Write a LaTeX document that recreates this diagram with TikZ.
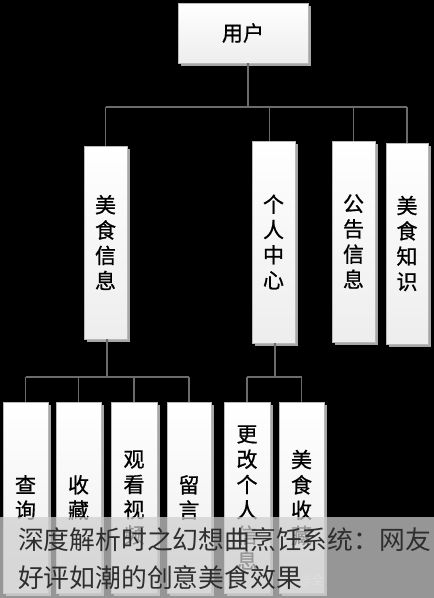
\documentclass[tikz,border=0pt]{standalone}
\usepackage{fontspec}
\newfontfamily\cjk{Noto Sans CJK SC}
\newfontfamily\cjkb[FakeBold=0.8]{Noto Sans CJK SC}
\usetikzlibrary{shadows,calc}
\begin{document}
\begin{tikzpicture}[x=1pt,y=-1pt,
 box/.style={rectangle, draw=gray!55, line width=0.6pt, top color=white, bottom color=gray!14,
   drop shadow={shadow xshift=3pt, shadow yshift=-3pt, fill=gray!70, opacity=1},
   inner sep=0pt, align=center, text=black, font=\cjkb\fontsize{21}{25.3}\selectfont},
 topbox/.style={box, minimum width=43pt, minimum height=200pt},
 lowbox/.style={box, minimum width=45pt, minimum height=191pt},
 conn/.style={draw=black!58, line width=1.2pt},
 caption/.style={anchor=west, inner sep=0pt, text=black!82, font=\cjk\fontsize{25.8}{30}\selectfont}]
\fill[black] (0,0) rectangle (434,598);
\useasboundingbox (0,0) rectangle (434,598);
% level 1
\node[box, minimum width=130pt, minimum height=60pt] (user) at (243,33) {用户};
% level 2
\node[topbox, minimum height=193pt] (n1) at (105.5,242.5) {美\\食\\信\\息};
\node[topbox, minimum height=202pt] (n2) at (273.5,242) {个\\人\\中\\心};
\node[topbox, minimum height=201pt] (n3) at (353.5,241.5) {公\\告\\信\\息};
\node[topbox, minimum width=42pt, minimum height=201pt] (n4) at (407,243.5) {美\\食\\知\\识};
% level 3
\node[lowbox] (b1) at (25.5,497.5) {查\\询};
\node[lowbox] (b2) at (78.5,497.5) {收\\藏};
\node[lowbox, minimum width=46pt] (b3) at (134,497.5) {观\\看\\视\\频};
\node[lowbox, minimum width=44pt] (b4) at (189,497.5) {留\\言};
\node[lowbox, minimum width=46pt] (b5) at (247,497.5) {更\\改\\个\\人\\信\\息};
\node[lowbox] (b6) at (301.5,497.5) {美\\食\\收\\藏};
% connectors level 1 -> 2
\coordinate (j0) at (248,107);
\draw[conn] (user.south -| j0) -- (j0);
\draw[conn] (n1.north |- j0) -- (n4.north |- j0);
\draw[conn] (n1.north |- j0) -- (n1.north);
\draw[conn] ($(n2.north |- j0)+(-4,0)$) -- ($(n2.north)+(-4,0)$);
\draw[conn] (n3.north |- j0) -- (n3.north);
\draw[conn] (n4.north |- j0) -- (n4.north);
% connectors level 2 -> 3
\coordinate (j1) at (107,377);
\draw[conn] (n1.south -| j1) -- (j1);
\draw[conn] (b1.north |- j1) -- (b4.north |- j1);
\foreach \b in {b1,b2,b3,b4} \draw[conn] (\b.north |- j1) -- (\b.north);
\coordinate (j2) at (275,377);
\draw[conn] (n2.south -| j2) -- (j2);
\draw[conn] (b5.north |- j2) -- (b6.north |- j2);
\foreach \b in {b5,b6} \draw[conn] (\b.north |- j2) -- (\b.north);
% caption overlay
\node[anchor=north west, inner sep=0pt, minimum width=434pt, minimum height=81pt,
      fill=white!81!black, fill opacity=0.73] (ov) at (0,517) {};
\node[anchor=west, inner sep=0pt, text=white!88!black, font=\cjk\fontsize{12}{14}\selectfont] (wm) at (300,580) {@全};
\node[caption] (c1) at (18,540) {深度解析时之幻想曲烹饪系统：网友};
\node[caption] (c2) at (18,578) {好评如潮的创意美食效果};
\end{tikzpicture}
\end{document}
